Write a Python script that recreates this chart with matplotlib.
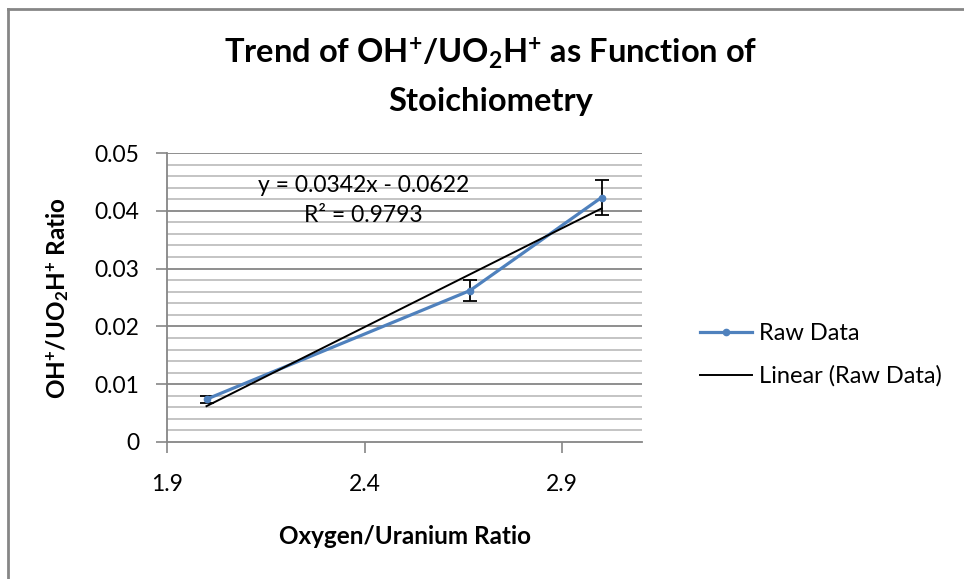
import numpy as np
import matplotlib.pyplot as plt
from matplotlib.lines import Line2D

plt.rcParams['font.family'] = ['Lato', 'DejaVu Sans']
plt.rcParams['mathtext.fontset'] = 'custom'
plt.rcParams['mathtext.rm'] = 'Lato'
plt.rcParams['mathtext.bf'] = 'Lato:bold'
plt.rcParams['mathtext.it'] = 'Lato:italic'

# data
ratio_ou = [2.0, 2.667, 3.0]
oh_ratio = [0.0074, 0.0262, 0.0423]
oh_err = [0.0006, 0.0018, 0.0030]

# trendline as printed on the chart
slope = 0.0342
intercept = -0.0622
r_squared = 0.9793

x_ticks = [1.9, 2.4, 2.9]
y_ticks = [0, 0.01, 0.02, 0.03, 0.04, 0.05]

blue = '#4F81BD'
grid_major = '#868686'
grid_minor = '#BFBFBF'

W, H = 964, 579
fig = plt.figure(figsize=(W / 100, H / 100), dpi=100)
ax = fig.add_axes([167 / W, 1 - 442 / H, (642 - 167) / W, (442 - 153) / H])

ax.set_xlim(1.9, 3.1025)
ax.set_ylim(0, 0.05)

# gridlines: major every 0.01, minor every 0.002
for yv in np.arange(0.002, 0.0501, 0.002):
    major = abs(yv / 0.01 - round(yv / 0.01)) < 1e-6
    ax.axhline(yv, color=grid_major if major else grid_minor, lw=1.3, zorder=0)

# raw data with error bars
ax.errorbar(ratio_ou, oh_ratio, yerr=oh_err, fmt='none', ecolor='black',
            elinewidth=1.3, capsize=5, capthick=1.3, zorder=2)
ax.plot(ratio_ou, oh_ratio, color=blue, lw=2.3, marker='o', ms=4.5, zorder=3)

# linear trendline
xt = np.array([min(ratio_ou), max(ratio_ou)])
ax.plot(xt, slope * xt + intercept, color='black', lw=1.4, zorder=4)

fig.text(364 / W, 1 - 185 / H, f'y = {slope:.4f}x - {abs(intercept):.4f}',
         ha='center', va='center', fontsize=16.5)
fig.text(363 / W, 1 - 215 / H, f'R² = {r_squared:.4f}',
         ha='center', va='center', fontsize=16.5)

ax.set_xticks(x_ticks)
ax.set_xticklabels([f'{v:.1f}' for v in x_ticks])
ax.set_yticks(y_ticks)
ax.set_yticklabels(['0'] + [f'{v:.2f}' for v in y_ticks[1:]])
ax.tick_params(axis='both', labelsize=16.5, length=8, width=1.2, color=grid_major)
ax.tick_params(axis='x', pad=15)
ax.tick_params(axis='y', pad=12)

for side in ['top', 'right']:
    ax.spines[side].set_visible(False)
for side in ['left', 'bottom']:
    ax.spines[side].set_color(grid_major)
    ax.spines[side].set_linewidth(1.3)

fig.text(405 / W, 1 - 537 / H, 'Oxygen/Uranium Ratio', ha='center', va='center',
         fontsize=17.5, fontweight='bold')
fig.text(58 / W, 1 - 298 / H,
         r'OH$^{\mathbf{+}}$/UO$_{\mathbf{2}}$H$^{\mathbf{+}}$ Ratio',
         ha='center', va='center', rotation=90, fontsize=17.5, fontweight='bold')

fig.text(491 / W, 1 - 53 / H,
         r'Trend of OH$^{\mathbf{+}}$/UO$_{\mathbf{2}}$H$^{\mathbf{+}}$ as Function of',
         ha='center', va='center', fontsize=23.5, fontweight='bold')
fig.text(491 / W, 1 - 101 / H, 'Stoichiometry',
         ha='center', va='center', fontsize=23.5, fontweight='bold')

handles = [Line2D([], [], color=blue, lw=2.3, marker='o', ms=4.5),
           Line2D([], [], color='black', lw=1.4)]
fig.legend(handles, ['Raw Data', 'Linear (Raw Data)'], loc='center left',
           bbox_to_anchor=(700 / W, 1 - 355 / H), frameon=False, fontsize=17,
           borderpad=0, borderaxespad=0, handlelength=2.2, handletextpad=0.3,
           labelspacing=0.9)

# chart area border (only left and top visible in the crop)
fig.add_artist(Line2D([8 / W, 8 / W], [0, 1 - 9 / H], color=grid_major, lw=2))
fig.add_artist(Line2D([8 / W, 1], [1 - 9 / H, 1 - 9 / H], color=grid_major, lw=2))

fig.savefig('out.png', dpi=100)
